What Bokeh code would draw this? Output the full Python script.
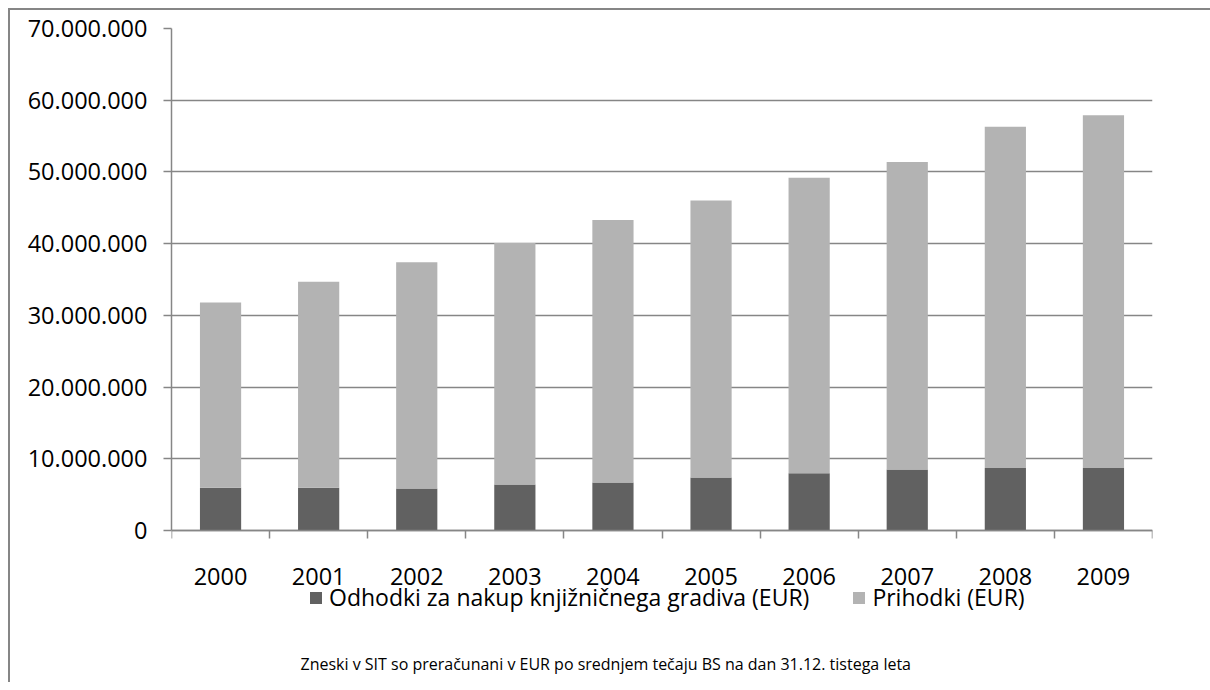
from bokeh.plotting import figure
from bokeh.models import Range1d, FixedTicker, Legend, LegendItem, Label
from bokeh.embed import file_html
from bokeh.resources import INLINE

years = ["2000", "2001", "2002", "2003", "2004", "2005", "2006", "2007", "2008", "2009"]
odhodki = [5950000, 5950000, 5860000, 6400000, 6700000, 7400000, 8000000, 8500000, 8700000, 8700000]
prihodki_total = [31800000, 34700000, 37400000, 40100000, 43300000, 46000000, 49200000, 51400000, 56300000, 57900000]
prihodki = [t - o for t, o in zip(prihodki_total, odhodki)]
y_ticks = [0, 10000000, 20000000, 30000000, 40000000, 50000000, 60000000, 70000000]
series_names = ["Odhodki za nakup knjižničnega gradiva (EUR)", "Prihodki (EUR)"]
colors = ["#616161", "#b3b3b3"]
footnote = "Zneski v SIT so preračunani v EUR po srednjem tečaju BS na dan 31.12. tistega leta"

FONT = "Open Sans"
GRAY = "#868686"

# layout (pixels)
CHART_H = 502          # height of the value area (0 .. 70M)
BELOW_H = 152          # space below the value area for labels, legend and note
FRAME_H = CHART_H + BELOW_H
Y_MAX = y_ticks[-1]
Y_MIN = -Y_MAX * BELOW_H / CHART_H

x_pos = [i + 0.5 for i in range(len(years))]
source = dict(x=x_pos, odhodki=odhodki, prihodki=prihodki)

p = figure(frame_width=981, frame_height=FRAME_H, output_backend="svg", toolbar_location=None,
           x_range=Range1d(0, len(years)), y_range=Range1d(Y_MIN, Y_MAX),
           min_border_left=161, min_border_right=58, min_border_top=18, min_border_bottom=0,
           styles={"border-top": f"2px solid {GRAY}", "border-left": f"2px solid {GRAY}",
                   "margin-top": "8px", "margin-left": "8px"})
p.outline_line_color = None
p.background_fill_color = "white"
p.border_fill_color = "white"

rs = p.vbar_stack(["odhodki", "prihodki"], x="x", width=0.42, source=source,
                  color=colors, line_color=None)

# y axis
p.yaxis.bounds = (0, Y_MAX)
p.yaxis.ticker = FixedTicker(ticks=y_ticks)
p.yaxis.major_label_overrides = {t: f"{t:,}".replace(",", ".") for t in y_ticks}
p.yaxis.major_tick_out = 8
p.yaxis.major_tick_in = 0
p.yaxis.minor_tick_out = 0
p.yaxis.minor_tick_in = 0
p.yaxis.axis_line_color = GRAY
p.yaxis.axis_line_width = 1.5
p.yaxis.major_tick_line_color = GRAY
p.yaxis.major_tick_line_width = 1.5
p.yaxis.major_label_text_font = FONT
p.yaxis.major_label_text_font_size = "23.5px"
p.yaxis.major_label_text_color = "black"
p.yaxis.major_label_standoff = 16

# x axis fixed at y = 0: labels at centres, tick marks at category boundaries
p.xaxis.fixed_location = 0
p.xaxis.ticker = FixedTicker(ticks=x_pos, minor_ticks=list(range(len(years) + 1)))
p.xaxis.major_label_overrides = {x: y for x, y in zip(x_pos, years)}
p.xaxis.major_tick_out = 0
p.xaxis.major_tick_in = 0
p.xaxis.minor_tick_out = 8
p.xaxis.minor_tick_in = 0
p.xaxis.minor_tick_line_color = GRAY
p.xaxis.minor_tick_line_width = 1.5
p.xaxis.axis_line_color = GRAY
p.xaxis.axis_line_width = 1.5
p.xaxis.major_label_text_font = FONT
p.xaxis.major_label_text_font_size = "23.5px"
p.xaxis.major_label_text_color = "black"
p.xaxis.major_label_standoff = 29

p.xgrid.grid_line_color = None
p.ygrid.ticker = FixedTicker(ticks=y_ticks)
p.ygrid.grid_line_color = GRAY
p.ygrid.grid_line_width = 1.5

legend = Legend(items=[LegendItem(label=series_names[i], renderers=[rs[i]]) for i in range(2)],
                orientation="horizontal", location=(137, 69),
                glyph_width=15, glyph_height=15, label_standoff=6, spacing=42,
                padding=0, margin=0, border_line_color=None, background_fill_alpha=0,
                label_text_font=FONT, label_text_font_size="23px", label_text_color="black")
p.add_layout(legend)

p.add_layout(Label(x=129, y=19, x_units="screen", y_units="screen", text=footnote,
                   text_align="left", text_baseline="middle",
                   text_font=FONT, text_font_size="16px", text_color="black"))

open("out.html", "w").write(file_html(p, INLINE))
